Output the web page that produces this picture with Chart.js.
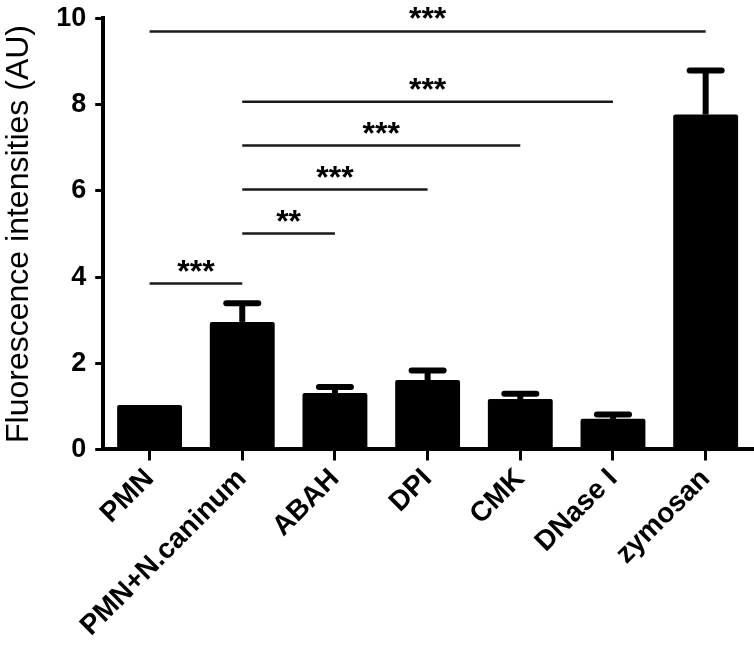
<!DOCTYPE html>
<html lang="en">
<head>
    <meta charset="UTF-8">
    <title>Fluorescence intensities</title>
    <script src="https://cdn.jsdelivr.net/npm/chart.js"></script>
    <style>
        body { margin: 0; background: #fff; }
        #wrap { width: 754px; height: 665px; }
    </style>
</head>
<body>
    <div id="wrap"><canvas id="barChart"></canvas></div>

    <script>
        // values
        const categories = ['PMN', 'PMN+N.caninum', 'ABAH', 'DPI', 'CMK', 'DNase I', 'zymosan'];
        const means = [1.03, 2.96, 1.31, 1.61, 1.17, 0.71, 7.77];
        const errors = [0, 0.43, 0.14, 0.22, 0.12, 0.10, 1.02];
        const yTicks = [0, 2, 4, 6, 8, 10];

        // significance brackets (category index from/to, height, stars)
        const bracketFrom = [0, 1, 1, 1, 1, 0];
        const bracketTo = [6, 5, 4, 3, 2, 1];
        const bracketY = [9.70, 8.07, 7.05, 6.03, 5.01, 3.85];
        const bracketLabel = ['***', '***', '***', '***', '**', '***'];

        const font = "'Liberation Sans', Arial, sans-serif";
        Chart.defaults.font.family = font;
        Chart.defaults.color = '#000';

        const errorBars = {
            id: 'errorBars',
            afterDatasetsDraw(chart) {
                const ctx = chart.ctx;
                const y = chart.scales.y;
                const meta = chart.getDatasetMeta(0);
                ctx.save();
                ctx.strokeStyle = '#000';
                meta.data.forEach((bar, i) => {
                    if (!errors[i]) return;
                    const top = y.getPixelForValue(means[i] + errors[i]);
                    ctx.lineWidth = 6;
                    ctx.lineCap = 'butt';
                    ctx.beginPath();
                    ctx.moveTo(bar.x, bar.y);
                    ctx.lineTo(bar.x, top);
                    ctx.stroke();
                    ctx.lineCap = 'round';
                    ctx.beginPath();
                    ctx.moveTo(bar.x - 16, top);
                    ctx.lineTo(bar.x + 16, top);
                    ctx.stroke();
                });
                ctx.restore();
            }
        };

        const brackets = {
            id: 'brackets',
            afterDraw(chart) {
                const ctx = chart.ctx;
                const x = chart.scales.x;
                const y = chart.scales.y;
                ctx.save();
                ctx.strokeStyle = '#1a1a1a';
                ctx.fillStyle = '#000';
                ctx.lineWidth = 2.5;
                ctx.font = 'bold 32px ' + font;
                ctx.textAlign = 'center';
                ctx.textBaseline = 'alphabetic';
                const m = ctx.measureText('*');
                const mid = (m.actualBoundingBoxAscent - m.actualBoundingBoxDescent) / 2;
                bracketY.forEach((v, i) => {
                    const x1 = x.getPixelForValue(bracketFrom[i]);
                    const x2 = x.getPixelForValue(bracketTo[i]);
                    const py = y.getPixelForValue(v);
                    ctx.beginPath();
                    ctx.moveTo(x1, py);
                    ctx.lineTo(x2, py);
                    ctx.stroke();
                    ctx.fillText(bracketLabel[i], (x1 + x2) / 2, py - 18 + mid);
                });
                ctx.restore();
            }
        };

        const ctx = document.getElementById('barChart').getContext('2d');
        new Chart(ctx, {
            type: 'bar',
            data: {
                labels: categories,
                datasets: [{
                    data: means,
                    backgroundColor: '#000',
                    borderRadius: 2,
                    barPercentage: 0.7,
                    categoryPercentage: 1.0
                }]
            },
            options: {
                responsive: true,
                maintainAspectRatio: false,
                animation: false,
                layout: { padding: { left: 2, right: 2, top: 0, bottom: 20 } },
                plugins: {
                    legend: { display: false },
                    tooltip: { enabled: false }
                },
                scales: {
                    x: {
                        border: { color: '#000', width: 4 },
                        grid: {
                            offset: false,
                            drawOnChartArea: false,
                            color: '#000',
                            lineWidth: 3,
                            tickLength: 11
                        },
                        ticks: {
                            font: { size: 28, weight: 'bold' },
                            color: '#000',
                            minRotation: 45,
                            maxRotation: 45,
                            padding: 2
                        }
                    },
                    y: {
                        min: 0,
                        max: 10,
                        afterBuildTicks(scale) {
                            scale.ticks = yTicks.map(v => ({ value: v }));
                        },
                        border: { color: '#000', width: 4 },
                        grid: {
                            drawOnChartArea: false,
                            color: '#000',
                            lineWidth: 3,
                            tickLength: 8
                        },
                        ticks: {
                            font: { size: 27, weight: 'bold', lineHeight: 0.7 },
                            color: '#000',
                            padding: 9
                        },
                        title: {
                            display: true,
                            text: 'Fluorescence intensities (AU)',
                            font: { size: 32, lineHeight: 1.1 },
                            color: '#000',
                            padding: { top: 0, bottom: 10 }
                        }
                    }
                }
            },
            plugins: [errorBars, brackets]
        });
    </script>
</body>
</html>
